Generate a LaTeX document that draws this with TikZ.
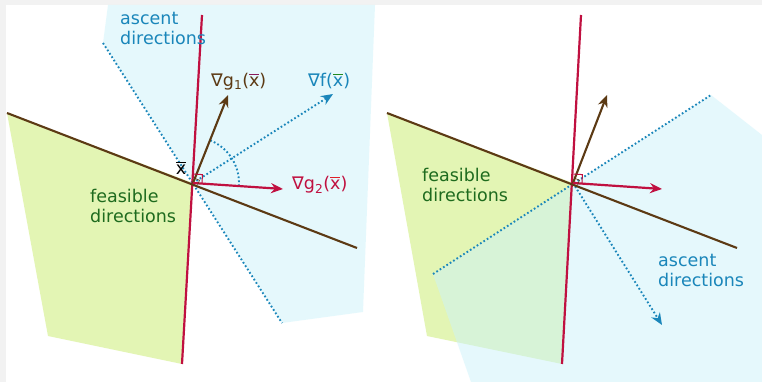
\documentclass[tikz,border=0pt]{standalone}
\usepackage{fontspec}
\setmainfont{DejaVu Sans}
\usetikzlibrary{arrows.meta,calc}
\definecolor{bluefill}{HTML}{CCF3FB}
\definecolor{greenfill}{HTML}{E3F5B4}
\definecolor{bluetxt}{HTML}{1A86BA}
\definecolor{greentxt}{HTML}{1E6B1E}
\definecolor{brownc}{HTML}{5C3A14}
\definecolor{redc}{HTML}{C01040}
\definecolor{barred}{HTML}{E02028}
\definecolor{barpurple}{HTML}{8A1A5A}
\definecolor{bargreen}{HTML}{1F8A1F}
\definecolor{graybg}{HTML}{F2F2F2}
\newcommand{\xbr}[1]{\setbox0=\hbox{x}\rlap{\color{#1}\rule[1.25\ht0]{\wd0}{0.08em}}x}
\tikzset{
  txt/.style={inner sep=0pt, anchor=base west, font=\fontsize{17.5}{20}\selectfont},
  redline/.style={draw=redc, line width=2.2pt},
  brownline/.style={draw=brownc, line width=2.1pt},
  dotline/.style={draw=bluetxt, line width=1.9pt, dash pattern=on 1.7pt off 2.3pt},
  tip/.style={-{Stealth[length=12pt,width=10pt]}},
  bluearea/.style={fill=bluefill, fill opacity=0.5},
  greenarea/.style={fill=greenfill},
  ramark/.style={draw=redc, line width=1pt},
}
\begin{document}
\begin{tikzpicture}[x=1pt,y=1pt]
\useasboundingbox (0,0) rectangle (762,382);
\fill[graybg] (0,0) rectangle (762,382);
\fill[white] (6,0) rectangle (762,377);

% ---------------- left panel ----------------
\coordinate (c1) at (193,199);
\coordinate (rt1) at (202,367);
\coordinate (rb1) at (182,18);
\coordinate (bl1) at (7,269);
\coordinate (br1) at (357,134);
\coordinate (g1a) at (228,287);
\coordinate (g2a) at (283,193);
\coordinate (fa) at (333,288);
\coordinate (d1s) at (103,339);
\coordinate (d1e) at (282,59);

\fill[greenarea] (bl1) -- (c1) -- (rb1) -- (48,46) -- cycle;
\fill[bluearea] (d1s) -- (108,377) -- (375,377) -- (363,70) -- (d1e) -- (c1) -- cycle;
\draw[dotline] (d1s) -- (d1e);
\draw[dotline, tip] (c1) -- (fa);
\draw[dotline] ($(c1)+(68:46)$) arc[start angle=68, end angle=-3, radius=46];
\draw[redline] (rt1) -- (rb1);
\draw[brownline] (bl1) -- (br1);
\draw[brownline, tip] (c1) -- (g1a);
\draw[redline, tip] (c1) -- (g2a);
\coordinate (s1a) at ($(c1)!9pt!(g2a)$);
\coordinate (s1b) at ($(c1)!9pt!(rt1)$);
\draw[ramark] (s1a) -- ($(s1a)+(s1b)-(c1)$) -- (s1b);
\coordinate (t1a) at ($(c1)!5pt!(br1)$);
\coordinate (t1b) at ($(c1)!5pt!(g1a)$);
\draw[draw=brownc, line width=0.6pt] (t1a) -- ($(t1a)+(t1b)-(c1)$) -- (t1b);

\node[txt, text=bluetxt] (asc1a) at (120,357) {ascent};
\node[txt, text=bluetxt] (asc1b) at (120,337) {directions};
\node[txt, text=greentxt] (fea1a) at (90,179) {feasible};
\node[txt, text=greentxt] (fea1b) at (90,159) {directions};
\node[txt, text=brownc] (lg1) at (211,295) {∇g\textsubscript{1}(\xbr{barpurple})};
\node[txt, text=bluetxt] (lf) at (308,295) {∇f(\xbr{bargreen})};
\node[txt, text=redc] (lg2) at (292,192) {∇g\textsubscript{2}(\xbr{barred})};
\node[txt, anchor=base, text=black] (lx) at (181,207) {\xbr{black}};

% ---------------- right panel ----------------
\coordinate (c2) at (573,199);
\coordinate (rt2) at (581,367);
\coordinate (rb2) at (562,18);
\coordinate (bl2) at (387,269);
\coordinate (br2) at (737,134);
\coordinate (g1b) at (607,287);
\coordinate (g2b) at (662,193);
\coordinate (fb) at (662,57);
\coordinate (d2s) at (433,108);
\coordinate (d2e) at (711,287);

\fill[greenarea] (bl2) -- (c2) -- (rb2) -- (427,46) -- cycle;
\fill[bluearea] (d2s) -- (d2e) -- (762,247) -- (762,0) -- (471,0) -- cycle;
\draw[dotline] (d2s) -- (d2e);
\draw[dotline, tip] (c2) -- (fb);
\draw[redline] (rt2) -- (rb2);
\draw[brownline] (bl2) -- (br2);
\draw[brownline, tip] (c2) -- (g1b);
\draw[redline, tip] (c2) -- (g2b);
\coordinate (s2a) at ($(c2)!9pt!(g2b)$);
\coordinate (s2b) at ($(c2)!9pt!(rt2)$);
\draw[ramark] (s2a) -- ($(s2a)+(s2b)-(c2)$) -- (s2b);
\coordinate (t2a) at ($(c2)!5pt!(br2)$);
\coordinate (t2b) at ($(c2)!5pt!(g1b)$);
\draw[draw=brownc, line width=0.6pt] (t2a) -- ($(t2a)+(t2b)-(c2)$) -- (t2b);

\node[txt, text=greentxt] (fea2a) at (422,200) {feasible};
\node[txt, text=greentxt] (fea2b) at (422,180) {directions};
\node[txt, text=bluetxt] (asc2a) at (658,115) {ascent};
\node[txt, text=bluetxt] (asc2b) at (658,95) {directions};
\end{tikzpicture}
\end{document}
